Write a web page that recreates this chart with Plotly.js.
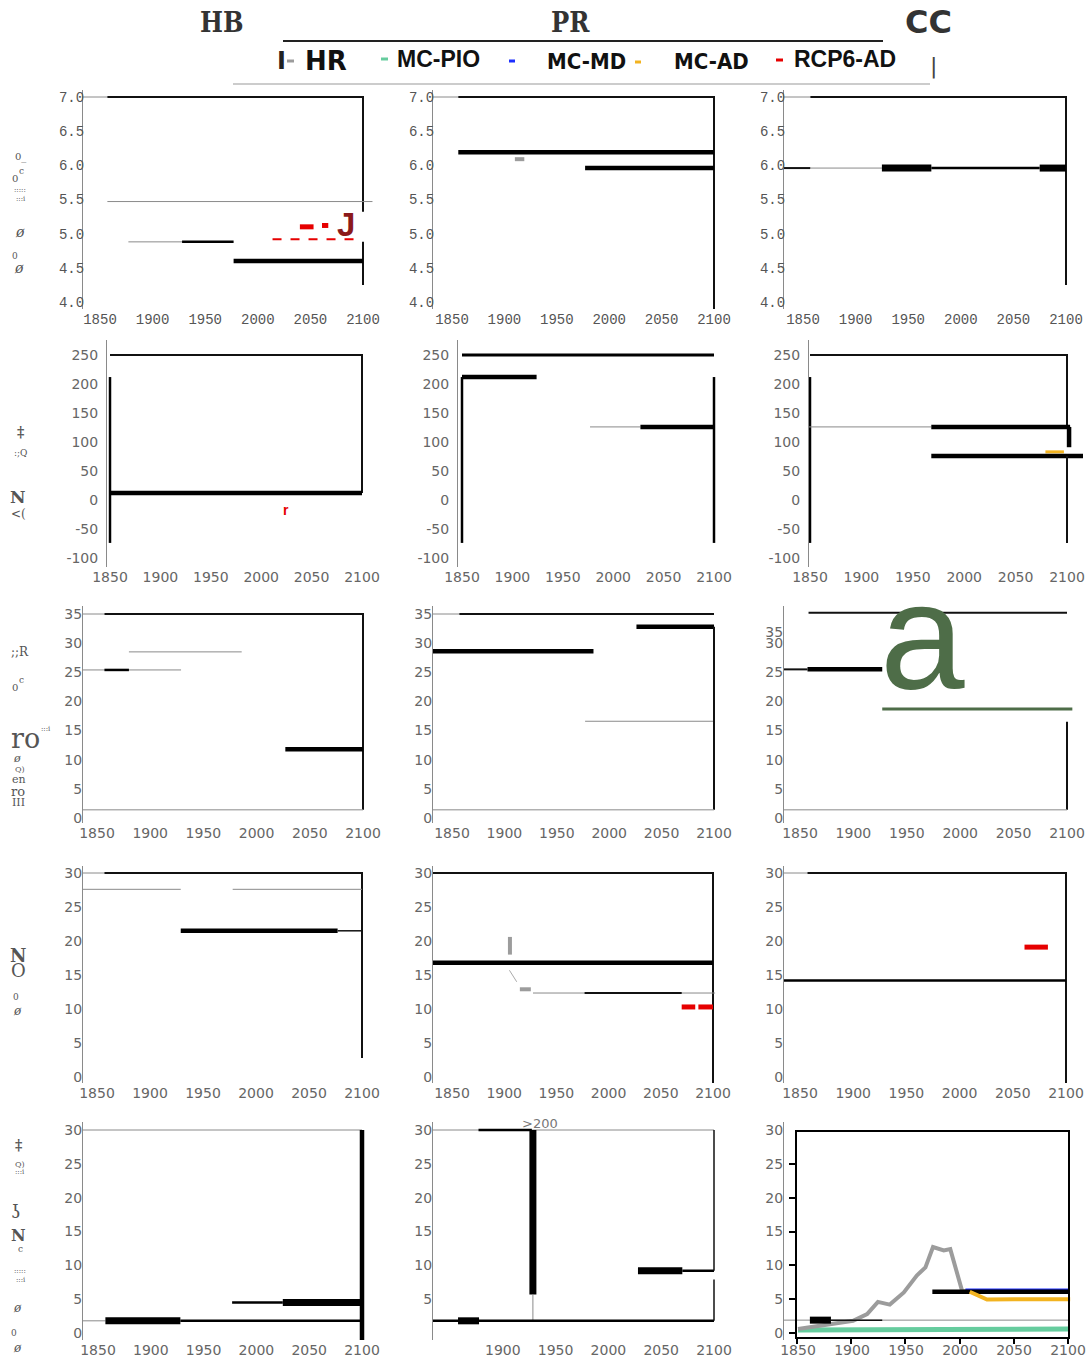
<!DOCTYPE html>
<html><head><meta charset="utf-8">
<script src="https://cdn.plot.ly/plotly-3.0.1.min.js"></script>
<style>html,body{margin:0;padding:0;background:#fff}#chart{width:1090px;height:1359px}</style>
</head><body><div id="chart"></div>
<script>
// ---------------- DATA ----------------
const columnTitles = ['HB', 'PR', 'CC'];
const legendNames = ['HR', 'MC-PIO', 'MC-MD', 'MC-AD', 'RCP6-AD'];
const xTickYears = [1850, 1900, 1950, 2000, 2050, 2100];
const yTicksTemp = [4.0, 4.5, 5.0, 5.5, 6.0, 6.5, 7.0];
const yTicksPrecip = [-100, -50, 0, 50, 100, 150, 200, 250];
const yTicksRow3 = [0, 5, 10, 15, 20, 25, 30, 35];
const yTicksRow4 = [0, 5, 10, 15, 20, 25, 30];
const yTicksRow5 = [0, 5, 10, 15, 20, 25, 30];

// CC bottom panel series
const HR_years  = [1850, 1862, 1875, 1890, 1901, 1914, 1924, 1935, 1948, 1960, 1968, 1975, 1985, 1991, 2002, 2009];
const HR_values = [0.6, 0.9, 1.2, 1.5, 1.8, 2.8, 4.6, 4.2, 6.0, 8.5, 9.7, 12.7, 12.2, 12.4, 6.2, 6.1];
const PIO_years  = [1850, 1900, 1950, 2000, 2050, 2100];
const PIO_values = [0.45, 0.5, 0.55, 0.6, 0.6, 0.6];
const MD_years  = [2005, 2050, 2100];
const MD_values = [6.35, 6.35, 6.35];
const AD_years  = [2009, 2025, 2050, 2075, 2102];
const AD_values = [6.1, 4.95, 5.0, 4.95, 5.0];

// series per panel: [kind, years, values]
const HB_temp = [
  ['ref', [1830, 1857], [7, 7]],
  ['frame', [1857, 2100, 2100], [7, 7, 5.32]],
  ['frame', [2100, 2100], [4.88, 4.25]],
  ['ref', [1857, 2109], [5.47, 5.47]],
  ['ref', [1877, 1928], [4.88, 4.88]],
  ['mid', [1928, 1977], [4.88, 4.88]],
  ['thick', [1977, 2100], [4.6, 4.6]],
  ['RCP6dash', [2014, 2093], [4.92, 4.92]],
  ['RCP6', [2040, 2053], [5.10, 5.10]],
  ['RCP6', [2061, 2067], [5.12, 5.12]]
];
const PR_temp = [
  ['ref', [1830, 1856], [7, 7]],
  ['frame', [1856, 2100, 2100], [7, 7, 3.85]],
  ['thick', [1856, 2100], [6.19, 6.19]],
  ['HR', [1910, 1919], [6.09, 6.09]],
  ['thick', [1977, 2100], [5.96, 5.96]]
];
const CC_temp = [
  ['ref', [1830, 1857], [7, 7]],
  ['frame', [1857, 2100, 2100], [7, 7, 4.25]],
  ['frame', [1830, 1857], [5.96, 5.96]],
  ['ref', [1857, 1925], [5.96, 5.96]],
  ['heavy', [1925, 1972], [5.96, 5.96]],
  ['mid', [1972, 2075], [5.96, 5.96]],
  ['heavy', [2075, 2100], [5.96, 5.96]]
];
const HB_precip = [
  ['frame', [1850, 2100, 2100], [250, 250, 12]],
  ['thick', [1850, 2100], [12, 12]],
  ['mid', [1850, 1850], [212, -74]]
];
const PR_precip = [
  ['frame3', [1850, 2100], [250, 250]],
  ['thick', [1850, 1924], [212, 212]],
  ['mid', [1850, 1850], [212, -74]],
  ['mid', [2100, 2100], [212, -74]],
  ['ref', [1977, 2027], [126, 126]],
  ['thick', [2027, 2100], [126, 126]]
];
const CC_precip = [
  ['frame', [1850, 2100, 2100], [250, 250, 126]],
  ['mid', [1850, 1850], [212, -74]],
  ['ref', [1830, 1968], [126, 126]],
  ['thick', [1968, 2103], [126, 126]],
  ['thick', [2102, 2102], [126, 91]],
  ['ADthin', [2079, 2097], [83, 83]],
  ['thick', [1968, 2120], [76, 76]],
  ['frame', [2100, 2100], [76, -74]]
];
const HB_row3 = [
  ['ref', [1830, 1857], [35, 35]],
  ['frame', [1857, 2100, 2100], [35, 35, 1.4]],
  ['ref', [1830, 2100], [1.4, 1.4]],
  ['ref', [1880, 1986], [28.5, 28.5]],
  ['ref', [1830, 1929], [25.4, 25.4]],
  ['mid', [1857, 1880], [25.4, 25.4]],
  ['thick', [2027, 2100], [11.8, 11.8]]
];
const PR_row3 = [
  ['ref', [1830, 1857], [35, 35]],
  ['frame', [1857, 2100], [35, 35]],
  ['thick', [1830, 1985], [28.6, 28.6]],
  ['thick', [2026, 2100], [32.8, 32.8]],
  ['ref', [1977, 2100], [16.6, 16.6]],
  ['frame', [2100, 2100], [32.8, 1.4]],
  ['ref', [1830, 2100], [1.4, 1.4]]
];
const CC_row3 = [
  ['frame', [1858, 2100], [35.2, 35.2]],
  ['frame', [1830, 1857], [25.5, 25.5]],
  ['thick', [1857, 1927], [25.5, 25.5]],
  ['A', [1927, 2105], [18.7, 18.7]],
  ['frame', [2100, 2100], [16.5, 1.4]],
  ['ref', [1830, 2100], [1.4, 1.4]]
];
const HB_row4 = [
  ['ref', [1830, 1857], [30, 30]],
  ['frame', [1857, 2100, 2100], [30, 30, 2.8]],
  ['ref', [1830, 1929], [27.6, 27.6]],
  ['ref', [1978, 2100], [27.6, 27.6]],
  ['thick', [1929, 2077], [21.5, 21.5]],
  ['thin', [2077, 2100], [21.5, 21.5]]
];
const PR_row4 = [
  ['frame', [1830, 2100, 2100], [30, 30, -1]],
  ['thick', [1830, 2100], [16.8, 16.8]],
  ['HR', [1905.5, 1905.5], [20.6, 18.0]],
  ['HRthin', [1905, 1912], [15.7, 14.0]],
  ['HR', [1915, 1925.5], [12.9, 12.9]],
  ['ref', [1927.6, 2102], [12.35, 12.35]],
  ['frame', [1977, 2070], [12.35, 12.35]],
  ['RCP6', [2070, 2083], [10.3, 10.3]],
  ['RCP6', [2086, 2100], [10.3, 10.3]]
];
const CC_row4 = [
  ['ref', [1830, 1857], [30, 30]],
  ['frame', [1857, 2100, 2100], [30, 30, -1]],
  ['mid', [1830, 2100], [14.2, 14.2]],
  ['RCP6', [2061, 2083], [19.1, 19.1]]
];
const HB_row5 = [
  ['ref', [1830, 2100], [30, 30]],
  ['thick', [2100, 2100], [30, -2]],
  ['ref', [1830, 1857], [1.8, 1.8]],
  ['heavy', [1857, 1928], [1.8, 1.8]],
  ['mid', [1928, 2100], [1.8, 1.8]],
  ['mid', [1977, 2025], [4.5, 4.5]],
  ['heavy', [2025, 2100], [4.5, 4.5]]
];
const PR_row5 = [
  ['ref', [1830, 2100], [30, 30]],
  ['mid', [1877, 1927.5], [30, 30]],
  ['heavy', [1928.5, 1928.5], [30, 5.7]],
  ['ref', [1928.5, 1928.5], [5.7, 1.8]],
  ['mid', [1830, 2100], [1.8, 1.8]],
  ['heavy', [1857.6, 1877.5], [1.8, 1.8]],
  ['heavy', [2028, 2070], [9.2, 9.2]],
  ['mid', [2070, 2100], [9.2, 9.2]],
  ['thin', [2100, 2100], [30, 9.2]],
  ['thin', [2100, 2100], [7.9, 1.8]]
];
const CC_row5 = [
  ['ref', [1830, 2100], [1.9, 1.9]],
  ['PIO', PIO_years, PIO_values],
  ['HR', HR_years, HR_values],
  ['MD', MD_years, MD_values],
  ['thick', [1974.4, 2100], [6.1, 6.1]],
  ['AD', AD_years, AD_values],
  ['heavy', [1861, 1880.5], [1.9, 1.9]],
  ['thin', [1880.5, 1928], [1.9, 1.9]]
];

// ---------------- STYLE / LAYOUT ----------------
const styles = {
  ref: {color: '#8a8a8a', width: 1},
  frame: {color: '#111', width: 2},
  frame3: {color: '#000', width: 3},
  thin: {color: '#111', width: 1.5},
  mid: {color: '#000', width: 2.5},
  thick: {color: '#000', width: 4.5},
  heavy: {color: '#000', width: 7},
  HR: {color: '#9c9c9c', width: 4},
  HRthin: {color: '#aaaaaa', width: 1},
  PIO: {color: '#66cc9e', width: 5},
  MD: {color: '#1d2fff', width: 3},
  AD: {color: '#f2b320', width: 4},
  ADthin: {color: '#f2b320', width: 3},
  RCP6: {color: '#e60000', width: 5},
  RCP6dash: {color: '#e60000', width: 2, dash: 'dash'},
  A: {color: '#4e6d48', width: 3}
};

const panels = [HB_temp, PR_temp, CC_temp, HB_precip, PR_precip, CC_precip,
                HB_row3, PR_row3, CC_row3, HB_row4, PR_row4, CC_row4, HB_row5, PR_row5, CC_row5];

const W = 1090, H = 1359;
const px = v => v / W, py = v => 1 - v / H;

// per row: [valueA, pixA, valueB, pixB, domTop, domBottom, yLabelStandoff]
const rowY = [
  [7, 97, 4, 302, 90, 309, -5],
  [250, 355, -100, 558, 340, 567, 5],
  [35, 614, 0, 818, 606, 823, -3],
  [30, 873, 0, 1077, 866, 1083, -3],
  [30, 1130, 0, 1333, 1122, 1340, -3]
];
// per panel: [axisLeftPx, px1850, px2100, rightPx]
const panelX = [
  [83, 100, 363, 381], [433, 452, 714, 731], [784, 803, 1066, 1083],
  [107, 110, 362, 378], [458, 462, 714, 731], [809, 810, 1067, 1083],
  [83, 97, 363, 381], [433, 452, 714, 731], [784, 800, 1067, 1083],
  [83, 97, 362, 381], [433, 452, 713, 731], [784, 800, 1066, 1083],
  [83, 98, 362, 381], [433, 450, 714, 731], [784, 798, 1068, 1083]
];

function yRangeFor(r) {
  const [va, pa, vb, pb, t, b] = rowY[r];
  const k = (vb - va) / (pb - pa);
  return [va + (b - pa) * k, va + (t - pa) * k];
}

const traces = [];
const layout = {
  width: W, height: H,
  margin: {l: 0, r: 0, t: 0, b: 0},
  paper_bgcolor: '#fff', plot_bgcolor: 'rgba(0,0,0,0)',
  showlegend: false,
  annotations: [], shapes: []
};

const monoFont = {family: 'Liberation Mono, monospace', size: 14, color: '#555'};
const sansFont = {family: 'DejaVu Sans, sans-serif', size: 14, color: '#666'};

panels.forEach((series, i) => {
  const n = i + 1, r = Math.floor(i / 3), c = i % 3;
  const sx = n === 1 ? '' : String(n);
  series.forEach(([kind, xs, ys]) => {
    const st = styles[kind];
    traces.push({
      type: 'scatter', mode: 'lines', x: xs, y: ys,
      xaxis: 'x' + sx, yaxis: 'y' + sx,
      line: {color: st.color, width: st.width, dash: st.dash || 'solid'},
      hoverinfo: 'skip', showlegend: false
    });
  });
  const [L, p1850, p2100, R] = panelX[i];
  const k = (p2100 - p1850) / 250;
  const xr = [1850 + (L - p1850) / k, 1850 + (R - p1850) / k];
  const [t, b, so] = [rowY[r][4], rowY[r][5], rowY[r][6]];
  const font = r === 0 ? monoFont : sansFont;
  let xt = xTickYears;
  if (n === 14) xt = xTickYears.slice(1);
  let yt, ytext;
  if (r === 0) { yt = yTicksTemp; ytext = yt.map(v => v.toFixed(1)); }
  else if (r === 1) { yt = yTicksPrecip; ytext = yt.map(String); }
  else if (r === 2) {
    yt = yTicksRow3.slice(); ytext = yt.map(String);
    if (c === 2) { yt[yt.length - 1] = 31.9; }
  }
  else if (r === 3) { yt = yTicksRow4; ytext = yt.map(String); }
  else { yt = n === 14 ? yTicksRow5.slice(1) : yTicksRow5; ytext = yt.map(String); }
  layout['xaxis' + sx] = {
    domain: [px(L), px(R)], range: xr, anchor: 'y' + sx,
    showline: false, showgrid: false, zeroline: false, ticks: '',
    tickvals: xt, ticktext: xt.map(String), tickfont: font, fixedrange: true
  };
  layout['yaxis' + sx] = {
    domain: [py(b), py(t)], range: yRangeFor(r), anchor: 'x' + sx,
    showline: true, linecolor: '#8a8a8a', linewidth: 1,
    showgrid: false, zeroline: false, ticks: '', ticklabelstandoff: so,
    tickvals: yt, ticktext: ytext, tickfont: font, fixedrange: true
  };
});

// inner framed axes of the CC bottom panel
traces.push({type: 'scatter', mode: 'lines', x: [], y: [], xaxis: 'x16', yaxis: 'y16', hoverinfo: 'skip', showlegend: false});
(function () {
  const [va, pa, vb, pb] = rowY[4];
  const k = (vb - va) / (pb - pa);
  layout.xaxis16 = {
    domain: [px(797), px(1068)], range: [1850, 2100], anchor: 'y16',
    showline: true, mirror: true, linecolor: '#000', linewidth: 2,
    ticks: 'outside', ticklen: 5, tickwidth: 2, tickcolor: '#000',
    tickvals: xTickYears, showticklabels: false, showgrid: false, zeroline: false
  };
  layout.yaxis16 = {
    domain: [py(1337), py(1132)], range: [va + (1337 - pa) * k, va + (1132 - pa) * k], anchor: 'x16',
    showline: true, mirror: true, linecolor: '#000', linewidth: 2,
    ticks: 'outside', ticklen: 6, tickwidth: 2, tickcolor: '#000',
    tickvals: yTicksRow5, showticklabels: false, showgrid: false, zeroline: false
  };
})();

// --- header: column titles ---
const titleFonts = [
  {family: 'DejaVu Serif Condensed, DejaVu Serif, serif', size: 27, color: '#333'},
  {family: 'DejaVu Serif Condensed, DejaVu Serif, serif', size: 27, color: '#333'},
  {family: 'DejaVu Sans, sans-serif', size: 32, color: '#333'}
];
const titleX = [221, 571, 928];
columnTitles.forEach((tt, i) => {
  layout.annotations.push({xref: 'paper', yref: 'paper', x: px(titleX[i]), y: py(22),
    text: '<b>' + tt + '</b>', showarrow: false, xanchor: 'center', yanchor: 'middle', font: titleFonts[i]});
});
layout.shapes.push({type: 'line', xref: 'paper', yref: 'paper', x0: px(283), x1: px(883), y0: py(41), y1: py(41), line: {color: '#222', width: 2}});
layout.shapes.push({type: 'line', xref: 'paper', yref: 'paper', x0: px(233), x1: px(930), y0: py(84), y1: py(84), line: {color: '#999', width: 1}});

// --- legend row ---
const legColors = ['#9c9c9c', '#66cc9e', '#1d2fff', '#f2b320', '#e60000'];
const legDash = [[287, 294, 61], [381, 388, 59], [509, 515, 61], [635, 641, 62], [776, 783, 60]];
const legText = [[326, 61], [438, 59], [587, 61], [711, 61], [845, 59]];
const legFont = [
  {family: 'DejaVu Sans, sans-serif', size: 26, color: '#111'},
  {family: 'Liberation Sans, sans-serif', size: 23, color: '#111'},
  {family: 'Liberation Sans Narrow, DejaVu Sans Condensed, Liberation Sans, sans-serif', size: 22, color: '#111'},
  {family: 'Liberation Sans Narrow, DejaVu Sans Condensed, Liberation Sans, sans-serif', size: 22, color: '#111'},
  {family: 'Liberation Sans, sans-serif', size: 23, color: '#111'}
];
legendNames.forEach((nm, i) => {
  layout.shapes.push({type: 'line', xref: 'paper', yref: 'paper', x0: px(legDash[i][0]), x1: px(legDash[i][1]),
    y0: py(legDash[i][2]), y1: py(legDash[i][2]), line: {color: legColors[i], width: 3}});
  layout.annotations.push({xref: 'paper', yref: 'paper', x: px(legText[i][0]), y: py(legText[i][1]),
    text: '<b>' + nm + '</b>', showarrow: false, xanchor: 'center', yanchor: 'middle', font: legFont[i]});
});
layout.annotations.push({xref: 'paper', yref: 'paper', x: px(281), y: py(61), text: '<b>I</b>', showarrow: false,
  xanchor: 'center', yanchor: 'middle', font: {family: 'DejaVu Sans, sans-serif', size: 24, color: '#222'}});
layout.annotations.push({xref: 'paper', yref: 'paper', x: px(933), y: py(66), text: '|', showarrow: false,
  xanchor: 'center', yanchor: 'middle', font: {family: 'DejaVu Sans, sans-serif', size: 22, color: '#444'}});

// --- in-panel text marks ---
layout.annotations.push({xref: 'x', yref: 'y', x: 2084, y: 5.14, text: '<b>J</b>', showarrow: false,
  font: {family: 'Liberation Sans, sans-serif', size: 33, color: '#8b1a1a'}});
layout.annotations.push({xref: 'x4', yref: 'y4', x: 2025, y: -18, text: '<b>r</b>', showarrow: false,
  font: {family: 'Liberation Sans, sans-serif', size: 14, color: '#e60000'}});
layout.annotations.push({xref: 'x9', yref: 'y9', x: 1965, y: 31.2, text: 'a', showarrow: false,
  xanchor: 'center', yanchor: 'middle', font: {family: 'Liberation Sans, sans-serif', size: 152, color: '#4e6d48'}});
layout.annotations.push({xref: 'x14', yref: 'y14', x: 1935, y: 31.0, text: '&gt;200', showarrow: false,
  font: {family: 'DejaVu Sans, sans-serif', size: 13, color: '#777'}});

// --- fragments of the left-hand axis titles ---
const frag = [
  ['0_', 20, 157, 10], ['c', 21, 171, 9], ['0', 15, 178, 10], [':::::', 20, 190, 7], [':::i', 21, 199, 7],
  ['<i>ø</i>', 20, 232, 14], ['0', 15, 256, 9], ['<i>ø</i>', 19, 268, 14],
  ['<b>‡</b>', 20, 432, 14], [':;Q', 20, 453, 9], ['<b>N</b>', 18, 497, 17], ['&lt;(', 18, 514, 12],
  [';;R', 20, 652, 12], ['c', 21, 680, 9], ['0', 15, 687, 10], ['ro', 25, 738, 27], [':::i', 46, 729, 7],
  ['<i>ø</i>', 17, 758, 11], ['Q)', 20, 769, 8], ['en', 19, 779, 11], ['ro', 18, 791, 13], ['III', 18, 802, 11],
  ['<b>N</b>', 18, 955, 18], ['O', 18, 971, 18], ['0', 16, 997, 9], ['<i>ø</i>', 17, 1011, 12],
  ['<b>‡</b>', 18, 1145, 14], ['Q)', 20, 1164, 8], [':::i', 20, 1172, 7], ['ʖ', 16, 1211, 18],
  ['<b>N</b>', 18, 1235, 16], ['c', 20, 1249, 9], [':::::', 20, 1271, 7], [':::i', 21, 1280, 7],
  ['<i>ø</i>', 17, 1308, 12], ['0', 14, 1333, 9], ['<i>ø</i>', 17, 1348, 12]
];
frag.forEach(([t, x, y, s]) => {
  layout.annotations.push({xref: 'paper', yref: 'paper', x: px(x), y: py(y), text: t, showarrow: false,
    xanchor: 'center', yanchor: 'middle', font: {family: 'DejaVu Serif, serif', size: s, color: '#555'}});
});

Plotly.newPlot('chart', traces, layout, {displayModeBar: false, staticPlot: true});
</script>
</body></html>
